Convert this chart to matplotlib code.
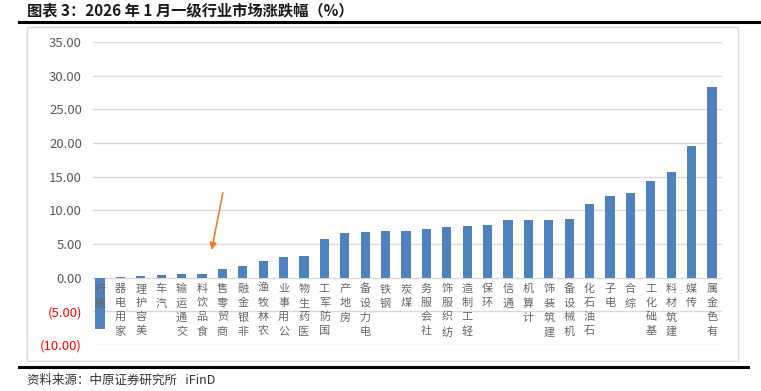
import matplotlib.pyplot as plt
import numpy as np

plt.rcParams['font.family'] = ['Noto Sans CJK SC', 'DejaVu Sans']

# 2026年1月 申万一级行业涨跌幅 (%)
industries = ['银行', '家用电器', '美容护理', '汽车', '交通运输', '食品饮料', '商贸零售',
              '非银金融', '农林牧渔', '公用事业', '医药生物', '国防军工', '房地产', '电力设备',
              '钢铁', '煤炭', '社会服务', '纺织服饰', '轻工制造', '环保', '通信', '计算机',
              '建筑装饰', '机械设备', '石油石化', '电子', '综合', '基础化工', '建筑材料',
              '传媒', '有色金属']
returns = [-7.6, 0.1, 0.3, 0.4, 0.5, 0.6, 1.3, 1.8, 2.5, 3.1, 3.2, 5.8, 6.6, 6.8,
           6.9, 7.0, 7.3, 7.5, 7.6, 7.8, 8.5, 8.6, 8.6, 8.7, 11.0, 12.1, 12.6, 14.3, 15.7,
           19.6, 28.3]
yticks = [-10, -5, 0, 5, 10, 15, 20, 25, 30, 35]

W, H = 761, 391
fig = plt.figure(figsize=(W / 100, H / 100), dpi=100)

def fx(px):
    return px / W

def fy(py):
    return 1 - py / H

# title and rules
fig.text(fx(27), fy(10), '图表 3：2026 年 1 月一级行业市场涨跌幅（%）', fontsize=11,
         fontweight='bold', va='center', ha='left', color='#1a1a1a')
fig.add_artist(plt.Line2D([fx(19), fx(760)], [fy(22), fy(22)], color='black', lw=2.2))
fig.add_artist(plt.Line2D([fx(19), fx(748)], [fy(367), fy(367)], color='black', lw=2.2))
fig.add_artist(plt.Rectangle((fx(27), fy(361)), fx(738) - fx(27), fy(27) - fy(361),
                             fill=False, ec='#d9d9d9', lw=1))
fig.text(fx(27), fy(380), '资料来源：中原证券研究所   iFinD', fontsize=9,
         va='center', ha='left', color='#333333')

ax = fig.add_axes([fx(93), fy(345), fx(722) - fx(93), fy(42) - fy(345)])
x = np.arange(len(industries))
ax.bar(x, returns, width=0.45, color='#4f81bd', zorder=3)
ax.set_xlim(-0.34, 30.49)
ax.set_ylim(-10, 35)
ax.set_yticks(yticks)
ax.grid(axis='y', color='#d9d9d9', lw=1, zorder=0)
ax.set_xticks([])
for s in ax.spines.values():
    s.set_visible(False)
ax.tick_params(axis='y', length=0, pad=8)
labels = []
for v in yticks:
    labels.append('(%.2f)' % abs(v) if v < 0 else '%.2f' % v)
ax.set_yticklabels(labels, fontsize=9.5)
for t, v in zip(ax.get_yticklabels(), yticks):
    t.set_color('#ff0000' if v < 0 else '#595959')

# stacked vertical labels, last character nearest the axis
for i, name in enumerate(industries):
    ax.text(i, -0.9, '\n'.join(reversed(name)), ha='center', va='top', fontsize=8,
            color='#666666', linespacing=1.5, zorder=4)

ax.annotate('', xy=(5.45, 3.7), xytext=(6.05, 13.0),
            arrowprops=dict(arrowstyle='-|>', color='#ed7d31', lw=1.2, mutation_scale=10))

fig.savefig('out.png', dpi=100)
